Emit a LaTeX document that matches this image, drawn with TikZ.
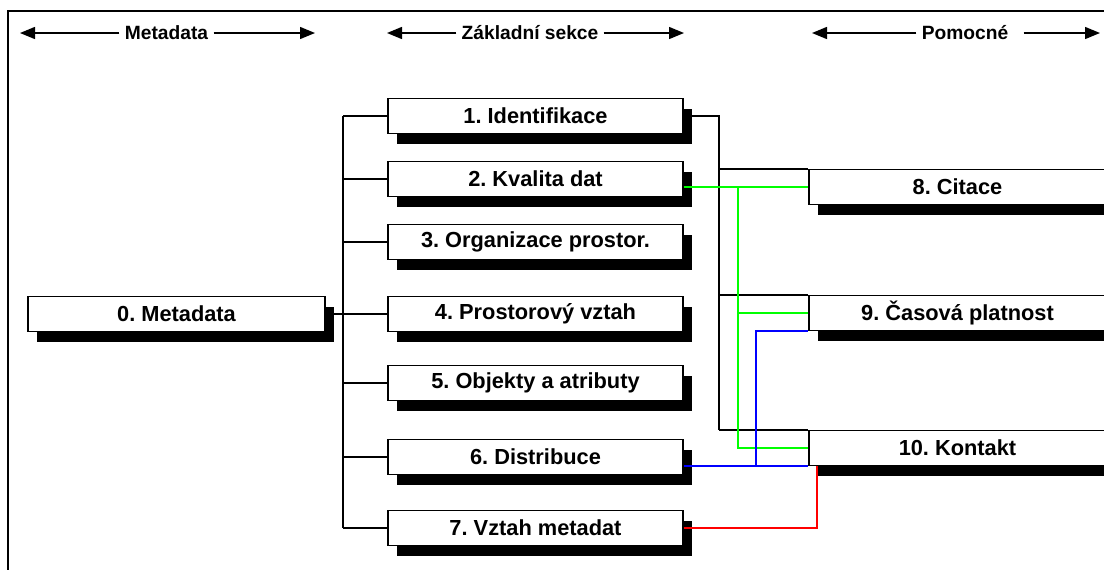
\documentclass[tikz,border=0pt]{standalone}
\usepackage{fontspec}
\setmainfont{Liberation Sans}
\usetikzlibrary{arrows.meta, positioning, shadows}

\begin{document}
\frenchspacing
\begin{tikzpicture}
                        [x=0.5pt, y=-0.5pt,
                         box/.style={draw, fill=white, line width=0.7pt, minimum height=17.5pt,
                                     inner sep=0pt, font=\bfseries\fontsize{10.9}{12}\selectfont,
                                     drop shadow={shadow xshift=4.5pt, shadow yshift=-5pt, fill=black, opacity=1}},
                         mid/.style={box, minimum width=147.5pt},
                         aux/.style={box, minimum width=148.5pt},
                         head/.style={inner sep=2.5pt, font=\bfseries\fontsize{9.6}{11}\selectfont},
                         harrow/.style={line width=0.7pt, -{Triangle[length=7.5pt, width=6pt]}},
                         link/.style={line width=0.9pt}]

                        \useasboundingbox (0,0) rectangle (1104,569);
                        \draw[line width=1pt] (8,580) |- (1110,11);

                        % headings
                        \node[head] (h1) at (166.5,33) {Metadata};
                        \node[head] (h2) at (530,33) {Základní sekce};
                        \node[head] (h3) at (965,33) {Pomocné};
                        \coordinate (h1l) at (20,33);  \coordinate (h1r) at (315,33);
                        \coordinate (h2l) at (387,33); \coordinate (h2r) at (684,33);
                        \coordinate (h3l) at (812,33); \coordinate (h3r) at (1100,33);
                        \draw[harrow] (h1.west) -- (h1l);
                        \draw[harrow] (h1.east) -- (h1r);
                        \draw[harrow] (h2.west) -- (h2l);
                        \draw[harrow] (h2.east) -- (h2r);
                        \draw[harrow] (h3.west) -- (h3l);
                        \draw[harrow] ([xshift=5pt]h3.east) -- (h3r);

                        % boxes
                        \node[box, minimum width=148.5pt] (m0) at (176.5,314) {0. Metadata};
                        \node[mid] (s1) at (535.5,116) {1. Identifikace};
                        \node[mid] (s2) at (535.5,179) {2. Kvalita dat};
                        \node[mid] (s3) at (535.5,242) {3. Organizace prostor.};
                        \node[mid] (s4) at (535.5,314) {4. Prostorový vztah};
                        \node[mid] (s5) at (535.5,383) {5. Objekty a atributy};
                        \node[mid] (s6) at (535.5,457) {6. Distribuce};
                        \node[mid] (s7) at (535.5,528) {7. Vztah metadat};
                        \node[aux] (r8) at (957.5,187) {8. Citace};
                        \node[aux] (r9) at (957.5,313) {9. Časová platnost};
                        \node[aux] (r10) at (957.5,448) {10. Kontakt};

                        % tree
                        \coordinate (tr) at (343,0);
                        \draw[link] (tr |- s1.west) -- (tr |- s7.west);
                        \draw[link] (m0.east) -- (tr |- m0.east);
                        \foreach \i in {1,...,7}
                            \draw[link] (tr |- s\i.west) -- (s\i.west);

                        % links to the helper sections
                        \coordinate (bj) at (719,0);
                        \draw[link] (s1.east) -- (bj |- s1.east) -- (bj |- r10.north west);
                        \foreach \r in {r8,r9,r10}
                            \draw[link] (bj |- \r.north west) -- (\r.north west);

                        \coordinate (gj) at (738,0);
                        \draw[link, green] (s2.east |- r8.west) -- (r8.west);
                        \draw[link, green] (gj |- r8.west) -- (gj |- r10.west) -- (r10.west);
                        \draw[link, green] (gj |- r9.west) -- (r9.west);

                        \coordinate (bl) at (756,0);
                        \draw[link, blue] (s6.east |- r10.south west) -- (r10.south west);
                        \draw[link, blue] (bl |- r10.south west) -- (bl |- r9.south west) -- (r9.south west);

                        \draw[link, red] (s7.east) -| ([xshift=4.5pt]r10.south west);
                    \end{tikzpicture}
\end{document}
